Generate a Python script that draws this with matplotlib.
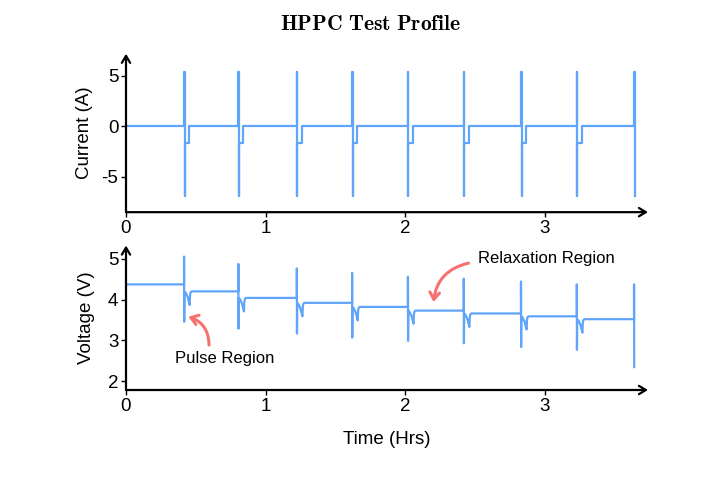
import matplotlib
matplotlib.use("Agg")
import matplotlib.pyplot as plt

plt.rcParams["font.family"] = ["Liberation Sans", "DejaVu Sans"]
plt.rcParams["mathtext.fontset"] = "cm"
plt.rcParams["axes.unicode_minus"] = False

BLUE = "#60a5fa"
RED = "#f87171"

# pulse start times (hrs)
pulse_t = [0.416, 0.805, 1.224, 1.62, 2.02, 2.42, 2.83, 3.23, 3.64]

# current levels (A)
i_high = 5.4
i_low = -6.9
i_step = -1.63
step_len = 0.036

# voltage per cycle (V)
v_rest = [4.37, 4.20, 4.04, 3.92, 3.82, 3.73, 3.66, 3.59, 3.52]
v_high = [5.05, 4.87, 4.76, 4.65, 4.56, 4.51, 4.44, 4.37, 4.37]
v_low = [3.46, 3.29, 3.17, 3.07, 2.99, 2.93, 2.84, 2.77, 2.35]
v_dip = [3.87, 3.71, 3.59, 3.49, 3.41, 3.33, 3.27, 3.19]

# shape of the dip after each pulse: (time after pulse, fraction between dip and rest)
dip_dt = [0.003, 0.014, 0.026, 0.034, 0.040, 0.043, 0.047, 0.055]
dip_frac = [1.0, 0.86, 0.58, 0.25, 0.0, 0.72, 0.94, 1.0]

t_end_axis = 3.74


def build_current():
    t, i = [0.0], [0.0]
    for k, t0 in enumerate(pulse_t):
        t += [t0, t0, t0 + 0.004, t0 + 0.004]
        i += [0.0, i_high, i_high, i_low]
        if k < len(pulse_t) - 1:
            t += [t0 + 0.004, t0 + step_len, t0 + step_len]
            i += [i_step, i_step, 0.0]
    return t, i


def build_voltage():
    t, v = [0.0], [v_rest[0]]
    for k, t0 in enumerate(pulse_t):
        t += [t0, t0, t0 + 0.001]
        v += [v_rest[k], v_high[k], v_low[k]]
        if k < len(v_dip):
            nxt = v_rest[k + 1]
            for dt, f in zip(dip_dt, dip_frac):
                t.append(t0 + dt)
                v.append(v_dip[k] + f * (nxt - v_dip[k]))
    return t, v


def style_axes(ax):
    for s in ax.spines.values():
        s.set_visible(False)
    arrow = dict(arrowstyle="->,head_length=0.5,head_width=0.3", lw=1.6, color="black",
                 shrinkA=0, shrinkB=0)
    ax.annotate("", xy=(1.0, 0), xytext=(0, 0), xycoords="axes fraction",
                arrowprops=arrow, annotation_clip=False)
    ax.annotate("", xy=(0, 1.0), xytext=(0, 0), xycoords="axes fraction",
                arrowprops=arrow, annotation_clip=False)
    ax.tick_params(labelsize=13.5, length=3.5, width=1, pad=2)
    ax.set_xlim(0, t_end_axis)
    ax.set_xticks([0, 1, 2, 3])


fig = plt.figure(figsize=(7.2, 4.8), dpi=100)
ax1 = fig.add_axes([0.175, 0.558, 0.725, 0.33])
ax2 = fig.add_axes([0.175, 0.1875, 0.725, 0.301])

tc, ic = build_current()
ax1.plot(tc, ic, color=BLUE, lw=1.6)
style_axes(ax1)
ax1.set_ylim(-8.5, 7.2)
ax1.set_yticks([-5, 0, 5])
ax1.set_ylabel("Current (A)", fontsize=13.5, labelpad=6)

tv, vv = build_voltage()
ax2.plot(tv, vv, color=BLUE, lw=1.6)
style_axes(ax2)
ax2.set_ylim(1.79, 5.32)
ax2.set_yticks([2, 3, 4, 5])
ax2.set_ylabel("Voltage (V)", fontsize=13.5, labelpad=9)
ax2.set_xlabel("Time (Hrs)", fontsize=13.5, labelpad=12)

red_arrow = dict(arrowstyle="->,head_length=0.5,head_width=0.35", color=RED, lw=2.2,
                 connectionstyle="arc3,rad=0.35", shrinkA=0, shrinkB=0)
ax2.annotate("", xy=(0.447, 3.58), xytext=(0.595, 2.89), arrowprops=red_arrow)
ax2.text(0.71, 2.57, "Pulse Region", fontsize=12, ha="center", va="center")
ax2.annotate("", xy=(2.203, 3.94), xytext=(2.454, 4.89), arrowprops=red_arrow)
ax2.text(3.01, 5.0, "Relaxation Region", fontsize=12, ha="center", va="center")

fig.text(0.515, 0.948, r"$\mathbf{HPPC\ Test\ Profile}$", fontsize=15.5,
         ha="center", va="center")

fig.savefig("out.png", dpi=100)
